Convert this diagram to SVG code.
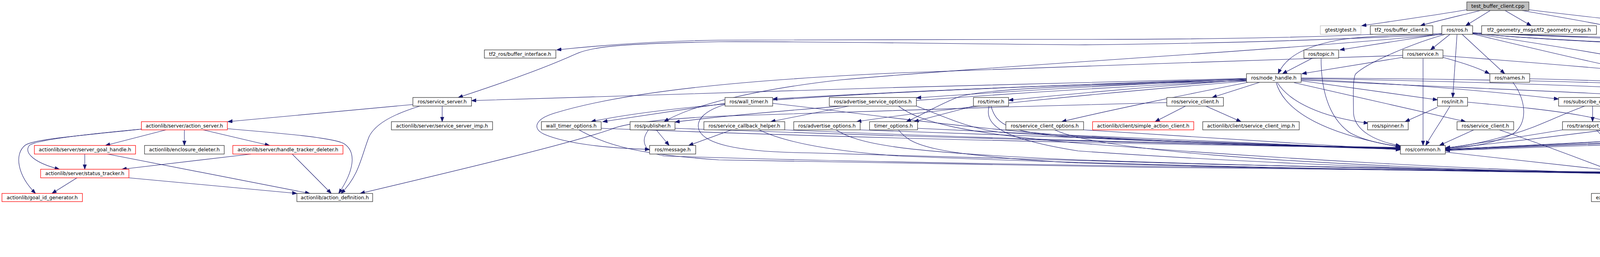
<svg xmlns="http://www.w3.org/2000/svg" width="5525" height="659" viewBox="0 0 5525 659">
<style>
.n rect{fill:#fff;stroke:#333;stroke-width:1.3}
.n.r rect{stroke:#f00}
.n.g rect{stroke:#bfbfbf}
.n.root rect{fill:#bfbfbf;stroke:#404040}
.n text{font-family:"DejaVu Sans",sans-serif;font-size:12.6px;fill:#000;text-anchor:middle}
.e path{fill:none;stroke:#191970;stroke-width:1.1;marker-end:url(#a)}
</style>
<defs>
<marker id="a" markerWidth="13" markerHeight="10" refX="12" refY="4.5" orient="auto" markerUnits="userSpaceOnUse"><path d="M0,0 L12,4.5 L0,9 z" fill="#191970" stroke="#191970" stroke-width="1"/></marker>
</defs>
<rect width="5525" height="659" fill="#fff"/>
<g id="edges" class="e">
<path d="M3755,25 C3700,35 3560,55 3486,66"/>
<path d="M3790,27 C3730,42 3680,53 3636,66"/>
<path d="M3815,27 L3752,66"/>
<path d="M3853,27 L3920,66"/>
<path d="M3897,27 C3970,40 4060,55 4112,66"/>
<path d="M3914,25 C4050,42 4180,55 4258,66"/>
<path d="M3515,88 C3300,98 3000,101 2760,101 C2400,101 2000,102 1840,103 C1650,106 1500,120 1425,128"/>
<path d="M3691,88 C3400,103 3100,112 2760,115 C2400,112 2100,106 1840,107 C1600,112 1520,118 1475,138 C1400,172 1280,215 1173,250"/>
<path d="M3691,86 C3600,89 3480,92 3420,104 C3330,122 3290,150 3272,189"/>
<path d="M3691,87 L3430,128"/>
<path d="M3712,88 L3662,128"/>
<path d="M3743,88 L3852,189"/>
<path d="M3730,88 L3719,250"/>
<path d="M3700,88 C3620,110 3500,160 3470,190 C3462,205 3465,260 3465,290 C3468,335 3520,362 3585,374"/>
<path d="M3691,88 C3300,128 2600,165 2150,205 C1950,228 1780,265 1700,312"/>
<path d="M3770,87 C3950,130 4150,180 4527,250"/>
<path d="M3770,86 C4000,120 4300,170 4683,249"/>
<path d="M3770,85 C3950,105 4300,115 4600,135 C4750,150 4850,230 4812,312"/>
<path d="M3770,85 C3950,104 4300,115 4600,132 C4800,150 4880,230 4967,312"/>
<path d="M3770,84 C4100,100 4400,105 4600,120 C4900,150 5100,220 5153,312"/>
<path d="M3770,84 C4100,98 4400,100 4600,112 C4900,140 5200,240 5373,312"/>
<path d="M3360,149 L3283,189"/>
<path d="M3382,150 C3382,230 3400,300 3455,340 C3490,360 3540,370 3585,376"/>
<path d="M3591,147 L3333,189"/>
<path d="M3643,150 L3643,373"/>
<path d="M3694,147 C3740,160 3780,172 3813,189"/>
<path d="M3591,142 C3200,157 2700,170 2300,187 C1900,205 1600,235 1420,290 C1370,305 1360,330 1395,345 C1450,368 1550,380 1663,383"/>
<path d="M3694,143 C4200,180 4800,240 5100,275 C5220,295 5250,330 5240,350 C5220,385 5100,405 4900,420 C4600,435 4400,440 4244,441"/>
<path d="M3191,201 C2600,215 1700,240 1207,258"/>
<path d="M3191,202 C2600,222 2200,240 1978,254"/>
<path d="M3191,203 C2800,220 2500,240 2346,251"/>
<path d="M3191,205 C2900,225 2700,245 2582,257"/>
<path d="M3225,211 L3103,250"/>
<path d="M3195,211 C3050,240 2850,280 2718,312"/>
<path d="M3191,207 C2700,220 2500,230 2450,250 C2400,270 2360,295 2320,312"/>
<path d="M3191,208 C2800,240 2400,280 2193,312"/>
<path d="M3191,204 C2500,225 1800,250 1513,312"/>
<path d="M3191,206 C2500,240 1900,290 1728,313"/>
<path d="M3331,207 L3680,256"/>
<path d="M3331,203 C3600,215 3800,232 3990,254"/>
<path d="M3331,201 C3800,210 4300,225 4516,250"/>
<path d="M3331,200 C3900,203 4400,215 4685,249"/>
<path d="M3313,212 L3752,312"/>
<path d="M3270,212 C3300,260 3380,300 3503,316"/>
<path d="M3267,212 C3290,290 3400,345 3585,377"/>
<path d="M3331,205 C3700,225 4100,235 4400,260 C4550,275 4600,310 4598,343 C4590,380 4500,405 4400,425 C4330,437 4280,440 4244,442"/>
<path d="M3873,211 C3910,260 3910,320 3873,343 C3820,370 3760,378 3700,380"/>
<path d="M3916,202 C4300,210 4700,240 4833,253 C4950,268 5040,290 5058,320 C5075,350 5040,365 4933,390 C4700,430 4400,440 4244,442"/>
<path d="M3680,275 L3597,312"/>
<path d="M3712,272 C3690,310 3665,345 3650,373"/>
<path d="M3757,262 C3950,280 4180,300 4195,360 C4200,395 4192,415 4190,434"/>
<path d="M4077,272 L4077,312"/>
<path d="M4057,272 C3980,300 3930,330 3850,350 C3800,365 3750,375 3700,379"/>
<path d="M4140,272 L4373,312"/>
<path d="M4150,272 C4230,300 4290,340 4270,390 C4255,415 4235,428 4215,434"/>
<path d="M4000,333 C3900,350 3780,368 3700,380"/>
<path d="M4087,333 C4120,370 4150,405 4172,434"/>
<path d="M3773,333 L3685,373"/>
<path d="M3838,333 C3950,370 4050,410 4132,440"/>
<path d="M4430,333 C4350,370 4280,410 4217,434"/>
<path d="M4527,272 C4300,310 4000,350 3700,381"/>
<path d="M4605,272 C4650,320 4660,380 4600,405 C4500,425 4350,436 4244,440"/>
<path d="M4700,272 L4510,312"/>
<path d="M4730,272 C4650,300 4500,330 4300,350 C4100,365 3900,375 3700,382"/>
<path d="M4790,272 C4850,300 4870,340 4833,360 C4780,390 4700,405 4600,417 C4450,432 4300,440 4244,443"/>
<path d="M4743,331 C4500,345 4100,365 3700,383"/>
<path d="M4782,333 C4760,360 4700,390 4600,408 C4450,430 4300,440 4244,443"/>
<path d="M4920,329 C4600,345 4100,368 3700,384"/>
<path d="M4972,333 C4950,370 4920,390 4870,398 C4700,420 4400,438 4244,444"/>
<path d="M5114,328 C4800,340 4200,365 3700,385"/>
<path d="M5157,333 C5140,370 5110,392 5060,405 C4800,430 4400,440 4244,444"/>
<path d="M5287,331 C4900,342 4300,365 3700,386"/>
<path d="M5388,333 C5330,365 5280,395 5200,400 C4900,420 4400,440 4244,445"/>
<path d="M1680,333 L1713,373"/>
<path d="M1728,329 C2300,350 3000,370 3585,378"/>
<path d="M1660,333 C1640,360 1645,390 1700,400 C2300,420 3500,435 4132,441"/>
<path d="M1539,329 C2200,355 3000,372 3585,379"/>
<path d="M1482,333 C1550,370 1620,395 1840,410 C2500,425 3500,437 4132,442"/>
<path d="M1856,265 L1543,312"/>
<path d="M1978,265 C2200,290 2400,320 2700,345 C3000,365 3300,373 3585,380"/>
<path d="M1856,268 C1800,285 1780,310 1790,335 C1805,365 1870,390 2073,392 C2600,410 3600,435 4132,443"/>
<path d="M1873,333 L1763,373"/>
<path d="M2009,333 C2500,355 3100,370 3585,381"/>
<path d="M1943,333 C2000,360 2100,385 2300,400 C2900,425 3600,437 4132,443"/>
<path d="M2173,272 L1973,312"/>
<path d="M2346,272 C2420,300 2480,330 2567,340 C2900,360 3300,374 3585,381"/>
<path d="M2300,272 C2350,310 2450,340 2760,367 C3300,410 3800,435 4132,444"/>
<path d="M2202,333 C2700,352 3200,370 3585,382"/>
<path d="M2140,333 C2200,370 2300,390 2760,410 C3300,428 3800,438 4132,444"/>
<path d="M2492,272 L2340,312"/>
<path d="M2537,272 C2550,320 2580,340 2760,353 C3100,370 3400,377 3585,383"/>
<path d="M2532,272 C2520,320 2560,355 2760,387 C3300,425 3800,438 4132,445"/>
<path d="M2349,329 C2800,350 3300,372 3585,383"/>
<path d="M2300,333 C2330,370 2370,397 2760,418 C3300,433 3800,440 4132,445"/>
<path d="M2774,333 C3100,355 3400,372 3585,384"/>
<path d="M2700,333 C2800,380 3200,420 4132,446"/>
<path d="M3035,272 L2957,312"/>
<path d="M3087,272 L3177,312"/>
<path d="M2987,263 C2600,272 2100,290 1840,298 C1700,305 1600,315 1560,333 C1450,370 1200,430 922,496"/>
<path d="M3700,390 L4132,438"/>
<path d="M4177,456 L4140,496"/>
<path d="M4200,456 L4237,496"/>
<path d="M362,331 C250,344 90,355 65,372 C35,395 45,450 91,496"/>
<path d="M362,331 C200,346 90,360 75,373 C60,393 90,418 152,434"/>
<path d="M425,333 L270,373"/>
<path d="M472,333 L472,373"/>
<path d="M520,333 L690,373"/>
<path d="M582,330 C700,340 850,352 880,368 C915,390 905,440 867,496"/>
<path d="M217,395 L217,434"/>
<path d="M275,395 L793,496"/>
<path d="M197,456 L133,496"/>
<path d="M330,456 C450,466 600,480 760,496"/>
<path d="M643,395 L312,434"/>
<path d="M748,395 L848,496"/>
<path d="M1057,268 L583,312"/>
<path d="M1132,272 L1132,312"/>
<path d="M1075,272 C1000,295 960,320 945,350 C925,400 920,450 873,496"/>
</g>
<g id="n_root" class="n root"><rect x="3755" y="5" width="159" height="22"/><text x="3834.5" y="20.4">test_buffer_client.cpp</text></g>
<g id="n_gtest" class="n g"><rect x="3380" y="66" width="104" height="22"/><text x="3432" y="81.4">gtest/gtest.h</text></g>
<g id="n_bclient" class="n"><rect x="3508" y="66" width="160" height="22"/><text x="3588" y="81.4">tf2_ros/buffer_client.h</text></g>
<g id="n_rosh" class="n"><rect x="3691" y="66" width="79" height="22"/><text x="3730.5" y="81.4">ros/ros.h</text></g>
<g id="n_tf2gm" class="n"><rect x="3793" y="66" width="294" height="22"/><text x="3940" y="81.4">tf2_geometry_msgs/tf2_geometry_msgs.h</text></g>
<g id="n_tf2kdl" class="n"><rect x="4111" y="66" width="122" height="22"/><text x="4172" y="81.4">tf2_kdl/tf2_kdl.h</text></g>
<g id="n_tf2bullet" class="n"><rect x="4256" y="66" width="157" height="22"/><text x="4334.5" y="81.4">tf2_bullet/tf2_bullet.h</text></g>
<g id="n_bufint" class="n"><rect x="1240" y="128" width="183" height="21"/><text x="1331.5" y="143">tf2_ros/buffer_interface.h</text></g>
<g id="n_topic" class="n"><rect x="3338" y="128" width="89" height="21"/><text x="3382.5" y="143">ros/topic.h</text></g>
<g id="n_service" class="n"><rect x="3591" y="128" width="103" height="21"/><text x="3642.5" y="143">ros/service.h</text></g>
<g id="n_nh" class="n"><rect x="3191" y="189" width="140" height="22"/><text x="3261" y="204.4">ros/node_handle.h</text></g>
<g id="n_names" class="n"><rect x="3814" y="189" width="102" height="22"/><text x="3865" y="204.4">ros/names.h</text></g>
<g id="n_ssL" class="n"><rect x="1057" y="250" width="150" height="22"/><text x="1132" y="265.4">ros/service_server.h</text></g>
<g id="n_walltimer" class="n"><rect x="1856" y="250" width="122" height="22"/><text x="1917" y="265.4">ros/wall_timer.h</text></g>
<g id="n_aso" class="n"><rect x="2123" y="250" width="223" height="22"/><text x="2234.5" y="265.4">ros/advertise_service_options.h</text></g>
<g id="n_timer" class="n"><rect x="2492" y="250" width="90" height="22"/><text x="2537" y="265.4">ros/timer.h</text></g>
<g id="n_scA" class="n"><rect x="2987" y="250" width="145" height="22"/><text x="3059.5" y="265.4">ros/service_client.h</text></g>
<g id="n_init" class="n"><rect x="3680" y="250" width="77" height="22"/><text x="3718.5" y="265.4">ros/init.h</text></g>
<g id="n_subopts" class="n"><rect x="3990" y="250" width="174" height="22"/><text x="4077" y="265.4">ros/subscribe_options.h</text></g>
<g id="n_ssR" class="n"><rect x="4514" y="250" width="150" height="22"/><text x="4589" y="265.4">ros/service_server.h</text></g>
<g id="n_subscriber" class="n"><rect x="4687" y="250" width="124" height="22"/><text x="4749" y="265.4">ros/subscriber.h</text></g>
<g id="n_actsrv" class="n r"><rect x="362" y="312" width="220" height="21"/><text x="472" y="327">actionlib/server/action_server.h</text></g>
<g id="n_ssimp" class="n"><rect x="1002" y="312" width="259" height="21"/><text x="1131.5" y="327">actionlib/server/service_server_imp.h</text></g>
<g id="n_wto" class="n"><rect x="1386" y="312" width="153" height="21"/><text x="1462.5" y="327">wall_timer_options.h</text></g>
<g id="n_pub" class="n"><rect x="1613" y="312" width="115" height="21"/><text x="1670.5" y="327">ros/publisher.h</text></g>
<g id="n_sch" class="n"><rect x="1802" y="312" width="207" height="21"/><text x="1905.5" y="327">ros/service_callback_helper.h</text></g>
<g id="n_ao" class="n"><rect x="2032" y="312" width="170" height="21"/><text x="2117" y="327">ros/advertise_options.h</text></g>
<g id="n_to" class="n"><rect x="2226" y="312" width="123" height="21"/><text x="2287.5" y="327">timer_options.h</text></g>
<g id="n_sco" class="n"><rect x="2575" y="312" width="199" height="21"/><text x="2674.5" y="327">ros/service_client_options.h</text></g>
<g id="n_sac" class="n r"><rect x="2797" y="312" width="259" height="21"/><text x="2926.5" y="327">actionlib/client/simple_action_client.h</text></g>
<g id="n_scimp" class="n"><rect x="3079" y="312" width="247" height="21"/><text x="3202.5" y="327">actionlib/client/service_client_imp.h</text></g>
<g id="n_spinner" class="n"><rect x="3501" y="312" width="104" height="21"/><text x="3553" y="327">ros/spinner.h</text></g>
<g id="n_scB" class="n"><rect x="3730" y="312" width="145" height="21"/><text x="3802.5" y="327">ros/service_client.h</text></g>
<g id="n_th" class="n"><rect x="4000" y="312" width="154" height="21"/><text x="4077" y="327">ros/transport_hints.h</text></g>
<g id="n_subcb" class="n r"><rect x="4330" y="312" width="238" height="21"/><text x="4449" y="327">ros/subscription_callback_helper.h</text></g>
<g id="n_master" class="n"><rect x="4743" y="312" width="103" height="21"/><text x="4794.5" y="327">ros/master.h</text></g>
<g id="n_thisnode" class="n"><rect x="4920" y="312" width="120" height="21"/><text x="4980" y="327">ros/this_node.h</text></g>
<g id="n_param" class="n"><rect x="5114" y="312" width="100" height="21"/><text x="5164" y="327">ros/param.h</text></g>
<g id="n_ssp" class="n"><rect x="5287" y="312" width="233" height="21"/><text x="5403.5" y="327">ros/single_subscriber_publisher.h</text></g>
<g id="n_sgh" class="n r"><rect x="88" y="373" width="259" height="22"/><text x="217.5" y="388.4">actionlib/server/server_goal_handle.h</text></g>
<g id="n_encl" class="n"><rect x="370" y="373" width="204" height="22"/><text x="472" y="388.4">actionlib/enclosure_deleter.h</text></g>
<g id="n_htd" class="n r"><rect x="596" y="373" width="282" height="22"/><text x="737" y="388.4">actionlib/server/handle_tracker_deleter.h</text></g>
<g id="n_message" class="n"><rect x="1663" y="373" width="118" height="22"/><text x="1722" y="388.4">ros/message.h</text></g>
<g id="n_common" class="n"><rect x="3585" y="373" width="115" height="22"/><text x="3642.5" y="388.4">ros/common.h</text></g>
<g id="n_statust" class="n r"><rect x="104" y="434" width="226" height="22"/><text x="217" y="449.4">actionlib/server/status_tracker.h</text></g>
<g id="n_forwards" class="n"><rect x="4132" y="434" width="112" height="22"/><text x="4188" y="449.4">ros/forwards.h</text></g>
<g id="n_goalid" class="n r"><rect x="5" y="496" width="206" height="21"/><text x="108" y="511">actionlib/goal_id_generator.h</text></g>
<g id="n_actdef" class="n"><rect x="760" y="496" width="194" height="21"/><text x="857" y="511">actionlib/action_definition.h</text></g>
<g id="n_excL" class="n"><rect x="4074" y="496" width="103" height="21"/><text x="4125.5" y="511">exceptions.h</text></g>
<g id="n_excR" class="n"><rect x="4199" y="496" width="103" height="21"/><text x="4250.5" y="511">exceptions.h</text></g>
</svg>
